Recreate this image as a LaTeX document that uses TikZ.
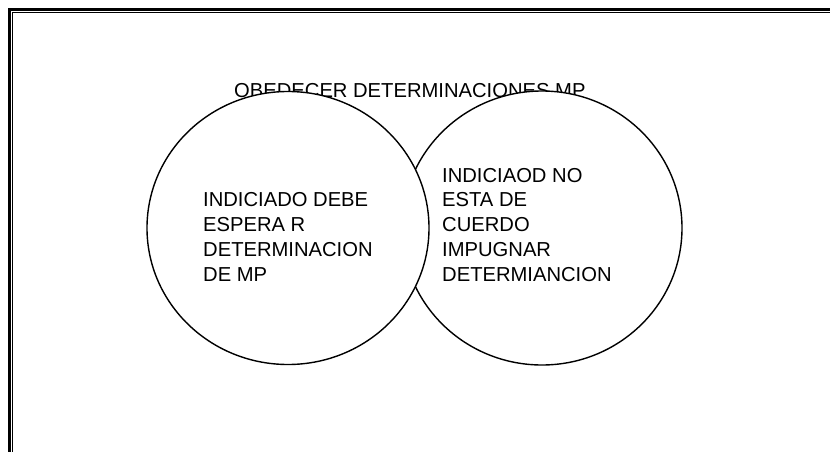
\documentclass[tikz,border=0pt]{standalone}
\usepackage{fontspec}
\setmainfont{Liberation Sans}
\usepackage{tikz}
\usetikzlibrary{shapes.geometric}

\begin{document}
\begin{tikzpicture}[x=1pt,y=-1pt,
  circulo/.style={ellipse, draw, fill=white, line width=1.4pt, inner sep=0pt},
  texto/.style={anchor=base west, align=left, inner sep=0pt,
    font=\fontsize{20.2}{24.7}\selectfont}]
\useasboundingbox (0,0) rectangle (830,452);
\clip (0,0) rectangle (830,452);

% marco doble
\draw[line width=3pt] (9.5,470)--(9.5,10)--(850,10);
\draw[line width=1pt] (12.5,470)--(12.5,12.5)--(850,12.5);

\node[texto] (titulo) at (234,97) {OBEDECER DETERMINACIONES MP};

\node[circulo, minimum width=280pt, minimum height=274pt] (der) at (542,228) {};
\node[circulo, minimum width=282pt, minimum height=273pt] (izq) at (288,228) {};

% base = ultima linea
\node[texto] (tizq) at (203,281) {INDICIADO DEBE\\ESPERA R\\DETERMINACION\\DE MP};
\node[texto] (tder) at (442,281) {INDICIAOD NO\\ESTA DE\\CUERDO\\IMPUGNAR\\DETERMIANCION};
\end{tikzpicture}
\end{document}
